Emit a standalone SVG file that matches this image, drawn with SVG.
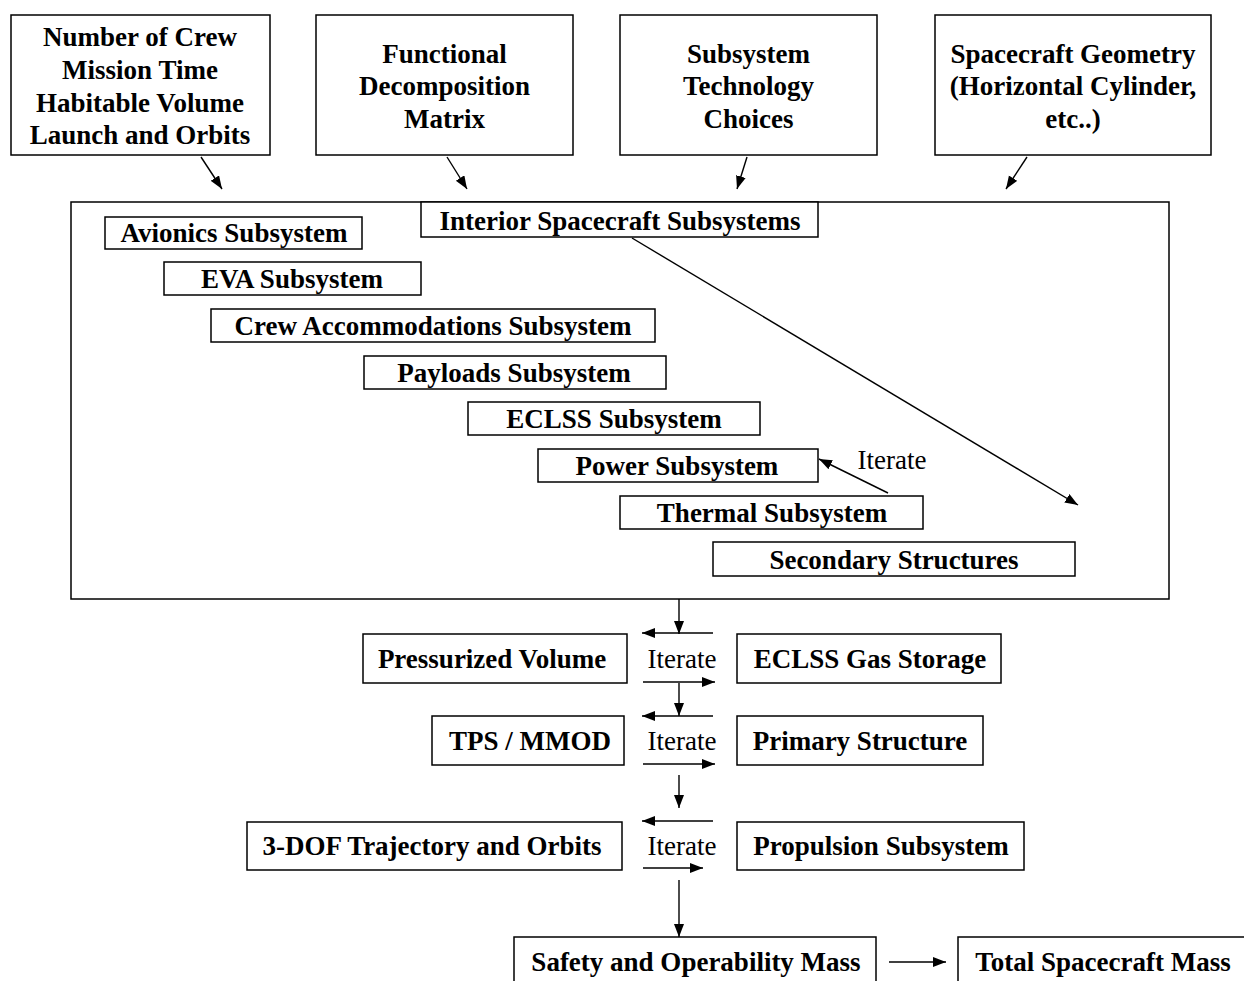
<svg xmlns="http://www.w3.org/2000/svg" width="1244" height="981" viewBox="0 0 1244 981">
<style>
.box{fill:#fff;stroke:#000;stroke-width:1.5}
.t{font-family:"Liberation Serif","Times New Roman",serif;font-weight:bold;font-size:27px;text-anchor:middle;fill:#000}
.it{font-family:"Liberation Serif","Times New Roman",serif;font-size:27px;text-anchor:middle;fill:#000}
.c{stroke:#000;stroke-width:1.4;fill:none;marker-end:url(#ah)}
</style>
<defs>
<marker id="ah" markerUnits="userSpaceOnUse" markerWidth="14" markerHeight="12" refX="13" refY="5" orient="auto">
<path d="M0,0 L13,5 L0,10 z" fill="#000"/>
</marker>
</defs>
<rect width="1244" height="981" fill="#fff"/>

<g id="n-inputs1"><rect class="box" x="11" y="15" width="259" height="140"/>
<text class="t" x="140" y="46">Number of Crew</text>
<text class="t" x="140" y="79">Mission Time</text>
<text class="t" x="140" y="112">Habitable Volume</text>
<text class="t" x="140" y="144">Launch and Orbits</text></g>

<g id="n-fdm"><rect class="box" x="316" y="15" width="257" height="140"/>
<text class="t" x="444.5" y="63">Functional</text>
<text class="t" x="444.5" y="95">Decomposition</text>
<text class="t" x="444.5" y="128">Matrix</text></g>

<g id="n-tech"><rect class="box" x="620" y="15" width="257" height="140"/>
<text class="t" x="748.5" y="63">Subsystem</text>
<text class="t" x="748.5" y="95">Technology</text>
<text class="t" x="748.5" y="128">Choices</text></g>

<g id="n-geom"><rect class="box" x="935" y="15" width="276" height="140"/>
<text class="t" x="1073" y="63">Spacecraft Geometry</text>
<text class="t" x="1073" y="95">(Horizontal Cylinder,</text>
<text class="t" x="1073" y="128">etc..)</text></g>

<g id="n-container"><rect class="box" x="71" y="202" width="1098" height="397"/></g>

<g id="n-interior"><rect class="box" x="421" y="202" width="397" height="35"/>
<text class="t" x="620" y="230">Interior Spacecraft Subsystems</text></g>

<g id="n-avionics"><rect class="box" x="105" y="217" width="257" height="32"/>
<text class="t" x="234" y="242">Avionics Subsystem</text></g>

<g id="n-eva"><rect class="box" x="164" y="262" width="257" height="33"/>
<text class="t" x="292" y="288">EVA Subsystem</text></g>

<g id="n-crew"><rect class="box" x="211" y="309" width="444" height="33"/>
<text class="t" x="433" y="335">Crew Accommodations Subsystem</text></g>

<g id="n-payloads"><rect class="box" x="364" y="356" width="302" height="33"/>
<text class="t" x="514" y="382">Payloads Subsystem</text></g>

<g id="n-eclss"><rect class="box" x="468" y="402" width="292" height="33"/>
<text class="t" x="614" y="428">ECLSS Subsystem</text></g>

<g id="n-power"><rect class="box" x="538" y="449" width="280" height="33"/>
<text class="t" x="677" y="475">Power Subsystem</text></g>

<g id="n-thermal"><rect class="box" x="620" y="496" width="303" height="33"/>
<text class="t" x="772" y="522">Thermal Subsystem</text></g>

<g id="n-secondary"><rect class="box" x="713" y="542" width="362" height="34"/>
<text class="t" x="894" y="569">Secondary Structures</text></g>

<g id="n-pressvol"><rect class="box" x="363" y="634" width="264" height="49"/>
<text class="t" x="492" y="668">Pressurized Volume</text></g>

<g id="n-gas"><rect class="box" x="737" y="634" width="264" height="49"/>
<text class="t" x="870" y="668">ECLSS Gas Storage</text></g>

<g id="n-tps"><rect class="box" x="432" y="716" width="192" height="49"/>
<text class="t" x="530" y="750">TPS / MMOD</text></g>

<g id="n-primary"><rect class="box" x="737" y="716" width="246" height="49"/>
<text class="t" x="860" y="750">Primary Structure</text></g>

<g id="n-3dof"><rect class="box" x="247" y="822" width="375" height="48"/>
<text class="t" x="432" y="855">3-DOF Trajectory and Orbits</text></g>

<g id="n-prop"><rect class="box" x="737" y="822" width="287" height="48"/>
<text class="t" x="881" y="855">Propulsion Subsystem</text></g>

<g id="n-safety"><rect class="box" x="514" y="937" width="362" height="60"/>
<text class="t" x="696" y="971">Safety and Operability Mass</text></g>

<g id="n-total"><rect class="box" x="958" y="937" width="300" height="60"/>
<text class="t" x="1103" y="971">Total Spacecraft Mass</text></g>

<g id="labels">
<text class="it" x="892" y="469">Iterate</text>
<text class="it" x="682" y="668">Iterate</text>
<text class="it" x="682" y="750">Iterate</text>
<text class="it" x="682" y="855">Iterate</text>
</g>

<g id="connectors">
<line class="c" x1="201" y1="157" x2="222" y2="189"/>
<line class="c" x1="447" y1="157" x2="467" y2="189"/>
<line class="c" x1="747" y1="157" x2="737" y2="189"/>
<line class="c" x1="1027" y1="157" x2="1006" y2="189"/>
<line class="c" x1="632" y1="238" x2="1078" y2="505"/>
<line class="c" x1="888" y1="493" x2="819" y2="459"/>
<line class="c" x1="679" y1="599" x2="679" y2="634"/>
<line class="c" x1="713" y1="633" x2="642" y2="633"/>
<line class="c" x1="643" y1="682" x2="715" y2="682"/>
<line class="c" x1="679" y1="683" x2="679" y2="716"/>
<line class="c" x1="713" y1="716" x2="642" y2="716"/>
<line class="c" x1="643" y1="764" x2="715" y2="764"/>
<line class="c" x1="679" y1="775" x2="679" y2="808"/>
<line class="c" x1="713" y1="821" x2="642" y2="821"/>
<line class="c" x1="643" y1="868" x2="703" y2="868"/>
<line class="c" x1="679" y1="880" x2="679" y2="937"/>
<line class="c" x1="889" y1="962" x2="946" y2="962"/>
</g>
</svg>
